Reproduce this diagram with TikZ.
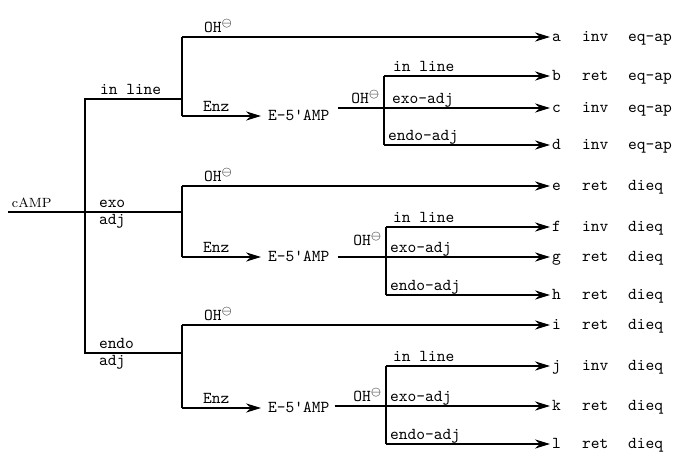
\documentclass[tikz,border=0pt]{standalone}
\usepackage{fontspec}
\usetikzlibrary{arrows.meta}
\tikzset{
  branch/.style={line width=1pt},
  leadto/.style={line width=1pt,-{Stealth[length=9pt,width=5.5pt]}},
  lab/.style={font=\ttfamily\fontsize{10}{11}\selectfont,inner sep=1pt,
    text height=1.5ex,text depth=.35ex},
  outlab/.style={lab,anchor=west},
}
\newcommand{\hydrox}{OH$^{\ominus}$}
\begin{document}
\begin{tikzpicture}[x=0.6pt,y=-0.6pt]
  \useasboundingbox (0,0) rectangle (676,460);
  % product column
  \foreach \n/\y/\conf/\rel in {a/37/inv/eq-ap, b/76/ret/eq-ap, c/108/inv/eq-ap, d/145/inv/eq-ap,
      e/186/ret/dieq, f/227/inv/dieq, g/257/ret/dieq, h/295/ret/dieq,
      i/325/ret/dieq, j/366/inv/dieq, k/406/ret/dieq, l/444/ret/dieq} {
    \node[outlab] (\n) at (550,\y) {\n};
    \node[outlab] (\n-conf) at (580,\y) {\conf};
    \node[outlab] (\n-rel) at (626,\y) {\rel};
  }
  % trunk
  \coordinate (camp0) at (8,212);
  \coordinate (t1) at (85,99);
  \coordinate (t3) at (85,353);
  \coordinate (g1) at (182,99);
  \coordinate (g2) at (182,212);
  \coordinate (g3) at (182,353);
  \draw[branch] (camp0) -- (g2);
  \draw[branch] (g1) -- (t1) -- (t3) -- (g3);
  \node[lab,font=\rmfamily\fontsize{8}{9}\selectfont,anchor=south west] (camp) at (10,212) {cAMP};
  \node[lab,anchor=south west] (inl) at (98,99) {in line};
  \node[lab,anchor=south west] (exo) at (97,212) {exo};
  \node[lab,anchor=north west] (exoadj) at (97,212) {adj};
  \node[lab,anchor=south west] (endo) at (97,353) {endo};
  \node[lab,anchor=north west] (endoadj) at (97,353) {adj};

  % in line group
  \coordinate (oh1) at (182,37);
  \coordinate (enz1) at (182,116);
  \draw[branch] (oh1) -- (enz1);
  \draw[leadto] (oh1) -- (a.west);
  \node[lab,anchor=south west] (ohl1) at (202,37) {\hydrox};
  \node[lab,anchor=south west] (enzl1) at (201,116) {Enz};
  \node[outlab] (amp1) at (266,116) {E-5'AMP};
  \draw[leadto,shorten >=3pt] (enz1) -- (amp1.west);
  \coordinate (s1) at (384,108);
  \coordinate (s1t) at (384,76);
  \coordinate (s1b) at (384,145);
  \draw[branch] ([xshift=4pt]amp1.east |- s1) -- (s1);
  \draw[branch] (s1t) -- (s1b);
  \draw[leadto] (s1t) -- (b.west);
  \draw[leadto] (s1) -- (c.west);
  \draw[leadto] (s1b) -- (d.west);
  \node[lab,anchor=south east] (ohs1) at (382,108) {\hydrox};
  \node[lab,anchor=south west] (in1) at (391,76) {in line};
  \node[lab,anchor=south west] (exo1) at (390,108) {exo-adj};
  \node[lab,anchor=south west] (endo1) at (386,145) {endo-adj};

  % exo adj group
  \coordinate (oh2) at (182,186);
  \coordinate (enz2) at (182,257);
  \draw[branch] (oh2) -- (enz2);
  \draw[leadto] (oh2) -- (e.west);
  \node[lab,anchor=south west] (ohl2) at (202,186) {\hydrox};
  \node[lab,anchor=south west] (enzl2) at (201,257) {Enz};
  \node[outlab] (amp2) at (266,257) {E-5'AMP};
  \draw[leadto,shorten >=3pt] (enz2) -- (amp2.west);
  \coordinate (s2) at (386,257);
  \coordinate (s2t) at (386,227);
  \coordinate (s2b) at (386,295);
  \draw[branch] ([xshift=4pt]amp2.east |- s2) -- (s2);
  \draw[branch] (s2t) -- (s2b);
  \draw[leadto] (s2t) -- (f.west);
  \draw[leadto] (s2) -- (g.west);
  \draw[leadto] (s2b) -- (h.west);
  \node[lab,anchor=south east] (ohs2) at (384,250) {\hydrox};
  \node[lab,anchor=south west] (in2) at (391,227) {in line};
  \node[lab,anchor=south west] (exo2) at (388,257) {exo-adj};
  \node[lab,anchor=south west] (endo2) at (388,295) {endo-adj};

  % endo adj group
  \coordinate (oh3) at (182,325);
  \coordinate (enz3) at (182,408);
  \draw[branch] (oh3) -- (enz3);
  \draw[leadto] (oh3) -- (i.west);
  \node[lab,anchor=south west] (ohl3) at (202,325) {\hydrox};
  \node[lab,anchor=south west] (enzl3) at (201,408) {Enz};
  \node[outlab] (amp3) at (266,408) {E-5'AMP};
  \draw[leadto,shorten >=3pt] (enz3) -- (amp3.west);
  \coordinate (s3) at (386,406);
  \coordinate (s3t) at (386,366);
  \coordinate (s3b) at (386,444);
  \draw[branch] ([xshift=2pt]amp3.east |- s3) -- (s3);
  \draw[branch] (s3t) -- (s3b);
  \draw[leadto] (s3t) -- (j.west);
  \draw[leadto] (s3) -- (k.west);
  \draw[leadto] (s3b) -- (l.west);
  \node[lab,anchor=south east] (ohs3) at (384,406) {\hydrox};
  \node[lab,anchor=south west] (in3) at (391,366) {in line};
  \node[lab,anchor=south west] (exo3) at (388,406) {exo-adj};
  \node[lab,anchor=south west] (endo3) at (388,444) {endo-adj};
\end{tikzpicture}
\end{document}
